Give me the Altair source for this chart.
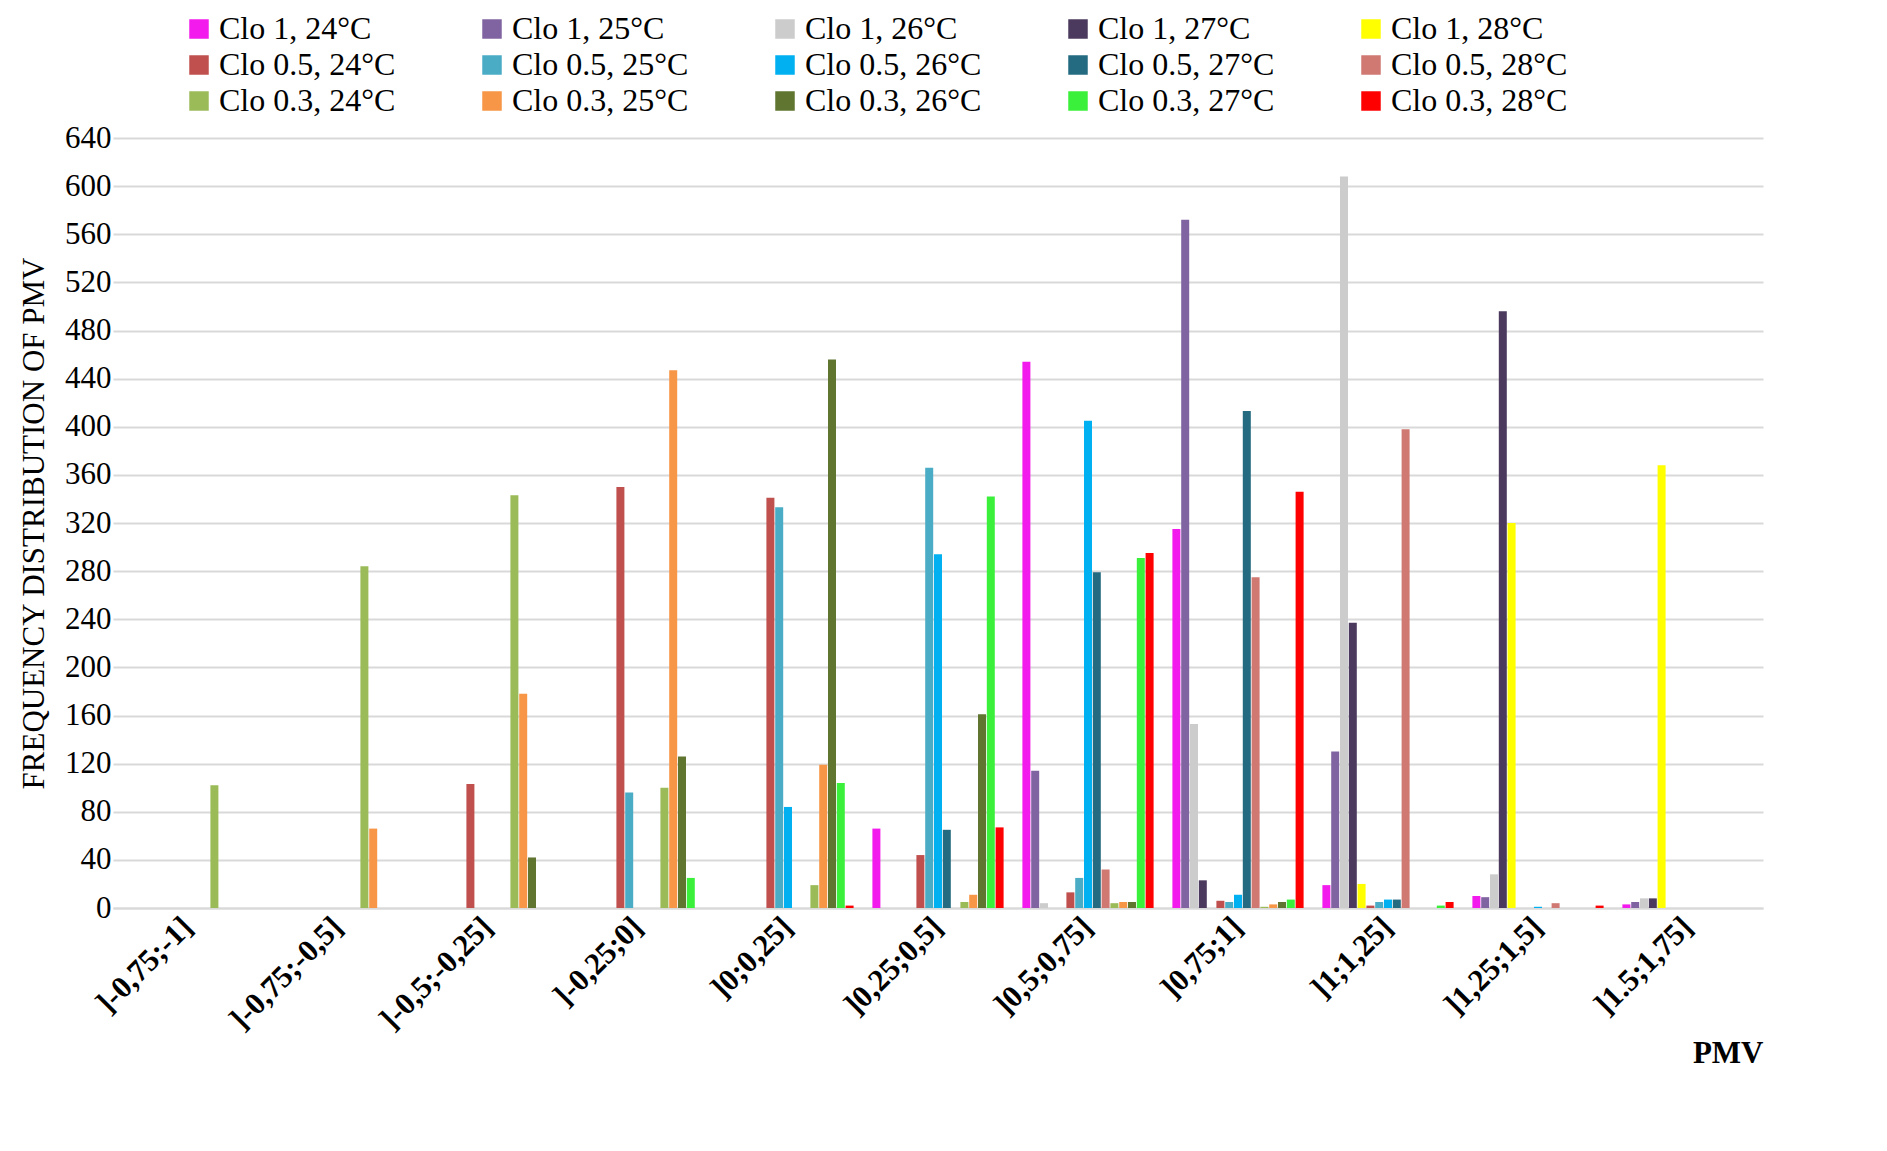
import altair as alt
import pandas as pd

categories = ["]-0,75;-1]", "]-0,75;-0,5]", "]-0,5;-0,25]", "]-0,25;0]", "]0;0,25]", "]0,25;0,5]",
              "]0,5;0,75]", "]0,75;1]", "]1;1,25]", "]1,25;1,5]", "]1.5;1,75]"]
series = ["Clo 1, 24°C", "Clo 1, 25°C", "Clo 1, 26°C", "Clo 1, 27°C", "Clo 1, 28°C",
          "Clo 0.5, 24°C", "Clo 0.5, 25°C", "Clo 0.5, 26°C", "Clo 0.5, 27°C", "Clo 0.5, 28°C",
          "Clo 0.3, 24°C", "Clo 0.3, 25°C", "Clo 0.3, 26°C", "Clo 0.3, 27°C", "Clo 0.3, 28°C"]
colors = ["#F21AEC", "#8064A2", "#CCCCCC", "#4B3A5E", "#FFFF00",
          "#C0504D", "#4BACC6", "#00B0F0", "#246A80", "#D07872",
          "#9BBB59", "#F79646", "#5F7530", "#3BF03B", "#FF0000"]
# values[category] listed in series order
values = [
    [0, 0, 0, 0, 0, 0, 0, 0, 0, 0, 102, 0, 0, 0, 0],
    [0, 0, 0, 0, 0, 0, 0, 0, 0, 0, 284, 66, 0, 0, 0],
    [0, 0, 0, 0, 0, 103, 0, 0, 0, 0, 343, 178, 42, 0, 0],
    [0, 0, 0, 0, 0, 350, 96, 0, 0, 0, 100, 447, 126, 25, 0],
    [0, 0, 0, 0, 0, 341, 333, 84, 0, 0, 19, 119, 456, 104, 2],
    [66, 0, 0, 0, 0, 44, 366, 294, 65, 0, 5, 11, 161, 342, 67],
    [454, 114, 4, 0, 0, 13, 25, 405, 279, 32, 4, 5, 5, 291, 295],
    [315, 572, 153, 23, 0, 6, 5, 11, 413, 275, 1, 3, 5, 7, 346],
    [19, 130, 608, 237, 20, 2, 5, 7, 7, 398, 0, 0, 0, 2, 5],
    [10, 9, 28, 496, 320, 0, 0, 1, 0, 4, 0, 0, 0, 0, 2],
    [3, 5, 8, 8, 368, 0, 0, 0, 0, 0, 0, 0, 0, 0, 0],
]

rows = []
for c, vals in zip(categories, values):
    for s, v in zip(series, vals):
        rows.append({"PMV": c, "Series": s, "Value": v})
df = pd.DataFrame(rows)

FONT = "Liberation Serif"

chart = alt.Chart(df).mark_bar(size=8).encode(
    x=alt.X("PMV:N", sort=categories, scale=alt.Scale(paddingInner=0.12, paddingOuter=0.06),
            axis=alt.Axis(title="PMV", titleAnchor="end", titleFontWeight="bold", titleFontSize=31,
                          titlePadding=4, labelAngle=-45, labelAlign="right", labelBaseline="middle",
                          labelFontWeight="bold", labelFontSize=31, ticks=False, domainColor="#D9D9D9",
                          domainWidth=2, labelPadding=14)),
    xOffset=alt.XOffset("Series:N", sort=series),
    y=alt.Y("Value:Q", scale=alt.Scale(domain=[0, 640]),
            axis=alt.Axis(title="FREQUENCY DISTRIBUTION OF PMV", values=list(range(0, 641, 40)),
                          titleFontSize=31, titleFontWeight="normal", labelFontSize=31,
                          domain=False, ticks=False, gridColor="#D9D9D9", gridWidth=2, titlePadding=14)),
    color=alt.Color("Series:N", sort=series, scale=alt.Scale(domain=series, range=colors),
                    legend=alt.Legend(title=None, orient="none", legendX=70, legendY=-125, columns=5,
                                      direction="horizontal", symbolType="square", symbolSize=380,
                                      labelFontSize=32, labelLimit=400, columnPadding=80,
                                      rowPadding=4, symbolStrokeWidth=0)),
).properties(width=1650, height=770, padding={"top": 5, "left": 10, "right": 40, "bottom": 5}).configure(
    font=FONT
).configure_view(stroke=None)

chart.save("out.html", embed_options={"renderer": "svg", "actions": False})
